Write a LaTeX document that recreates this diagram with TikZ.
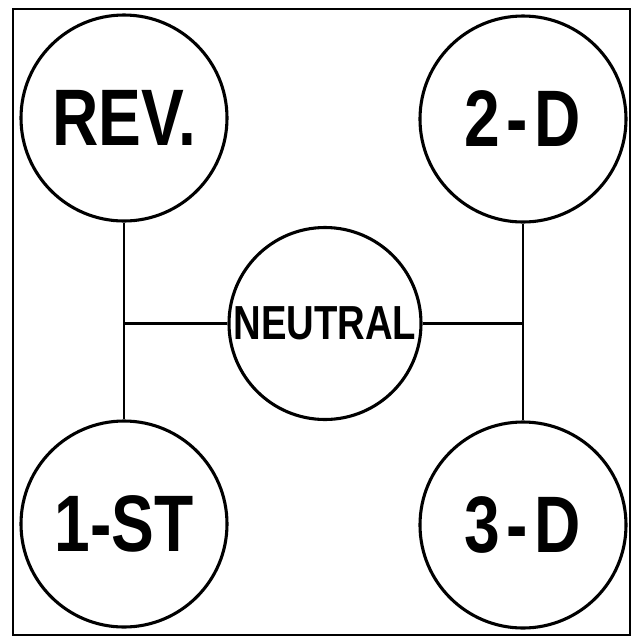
\documentclass[tikz,border=0pt]{standalone}
\usepackage{fontspec}
\newfontfamily\gearfont[FakeStretch=0.8]{Liberation Sans}
\usetikzlibrary{shapes}

\begin{document}
\begin{tikzpicture}[x=0.25mm,y=-0.25mm,every node/.style={circle,draw,line width=2.2pt,inner sep=0pt},
				gear/.style={minimum size=51.5mm,font=\gearfont\bfseries\fontsize{57}{60}\selectfont},
				neutralgear/.style={minimum size=48mm,font=\gearfont\bfseries\fontsize{34}{36}\selectfont}
				]
				\useasboundingbox (0,0) rectangle (632,638);
				\draw[line width=1.8pt] (13,9) rectangle (630,635);
				\node[gear](rev) at (124,118) {REV.};
				\node[gear](second) at (523,119) {2\kern.08em-\kern.08em D};
				\node[gear](first) at (124,524) {1-ST};
				\node[gear](third) at (523,525) {3\kern.08em-\kern.08em D};
				\node[neutralgear](neutral) at (325,323.5) {NEUTRAL};
				\coordinate (jl) at (124,323.5);
				\coordinate (jr) at (523,323.5);
				\draw[line width=1.8pt] (rev) -- (jl) -- (first) (jl) -- (neutral)
					(second) -- (jr) -- (third) (jr) -- (neutral);
\end{tikzpicture}
\end{document}
